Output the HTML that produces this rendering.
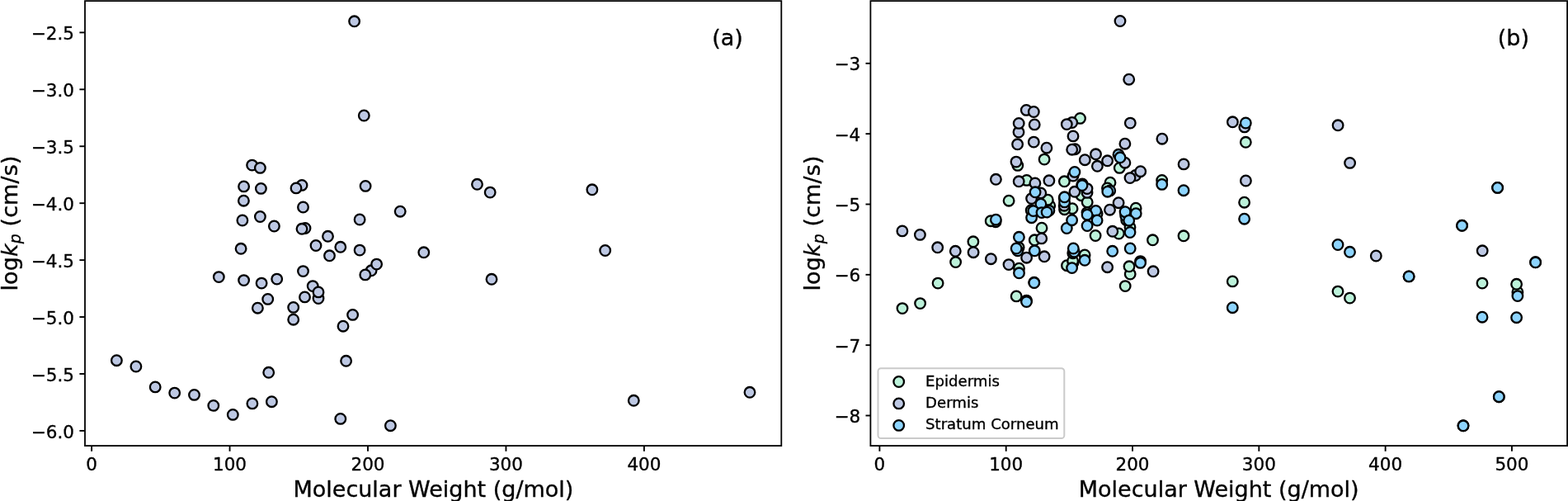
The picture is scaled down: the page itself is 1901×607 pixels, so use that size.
<!DOCTYPE html>
<html lang="en"><head><meta charset="utf-8"><title>Skin permeability vs molecular weight</title>
<style>html,body{margin:0;padding:0;background:#fff}svg{display:block}text{font-family:"DejaVu Sans","Liberation Sans",sans-serif;fill:#000;stroke:#000;stroke-width:0.35px;stroke-linejoin:round}</style>
</head><body>
<svg width="1901" height="607" viewBox="0 0 1901 607">
<rect width="1901" height="607" fill="#fff"/>
<rect x="103.0" y="1.15" width="844.30" height="538.95" fill="#fff" stroke="#000" stroke-width="1.8" stroke-linejoin="miter"/>
<line x1="111.10" y1="540.1" x2="111.10" y2="546.8000000000001" stroke="#000" stroke-width="1.9"/>
<text x="111.10" y="569.6" font-size="21.5" text-anchor="middle">0</text>
<line x1="278.55" y1="540.1" x2="278.55" y2="546.8000000000001" stroke="#000" stroke-width="1.9"/>
<text x="278.55" y="569.6" font-size="21.5" text-anchor="middle">100</text>
<line x1="446.00" y1="540.1" x2="446.00" y2="546.8000000000001" stroke="#000" stroke-width="1.9"/>
<text x="446.00" y="569.6" font-size="21.5" text-anchor="middle">200</text>
<line x1="613.45" y1="540.1" x2="613.45" y2="546.8000000000001" stroke="#000" stroke-width="1.9"/>
<text x="613.45" y="569.6" font-size="21.5" text-anchor="middle">300</text>
<line x1="780.90" y1="540.1" x2="780.90" y2="546.8000000000001" stroke="#000" stroke-width="1.9"/>
<text x="780.90" y="569.6" font-size="21.5" text-anchor="middle">400</text>
<line x1="96.4" y1="39.40" x2="103.0" y2="39.40" stroke="#000" stroke-width="1.9"/>
<text x="90.05" y="48.40" font-size="21.5" text-anchor="end">−2.5</text>
<line x1="96.4" y1="108.33" x2="103.0" y2="108.33" stroke="#000" stroke-width="1.9"/>
<text x="90.05" y="117.33" font-size="21.5" text-anchor="end">−3.0</text>
<line x1="96.4" y1="177.26" x2="103.0" y2="177.26" stroke="#000" stroke-width="1.9"/>
<text x="90.05" y="186.26" font-size="21.5" text-anchor="end">−3.5</text>
<line x1="96.4" y1="246.19" x2="103.0" y2="246.19" stroke="#000" stroke-width="1.9"/>
<text x="90.05" y="255.19" font-size="21.5" text-anchor="end">−4.0</text>
<line x1="96.4" y1="315.12" x2="103.0" y2="315.12" stroke="#000" stroke-width="1.9"/>
<text x="90.05" y="324.12" font-size="21.5" text-anchor="end">−4.5</text>
<line x1="96.4" y1="384.05" x2="103.0" y2="384.05" stroke="#000" stroke-width="1.9"/>
<text x="90.05" y="393.05" font-size="21.5" text-anchor="end">−5.0</text>
<line x1="96.4" y1="452.98" x2="103.0" y2="452.98" stroke="#000" stroke-width="1.9"/>
<text x="90.05" y="461.98" font-size="21.5" text-anchor="end">−5.5</text>
<line x1="96.4" y1="521.91" x2="103.0" y2="521.91" stroke="#000" stroke-width="1.9"/>
<text x="90.05" y="530.91" font-size="21.5" text-anchor="end">−6.0</text>
<text x="525.4" y="601.5" font-size="27.0" text-anchor="middle">Molecular Weight (g/mol)</text>
<text transform="translate(20.7,270.5) rotate(-90)" font-size="27.0" text-anchor="middle" letter-spacing="0.1">log<tspan font-style="italic">k</tspan><tspan font-style="italic" font-size="18.90" dy="4.32">p</tspan><tspan dy="-4.32"> (cm/s)</tspan></text>
<g>
<circle cx="429.6" cy="25.8" r="6.3" fill="#bdc8e3" stroke="#000" stroke-width="2.3"/>
<circle cx="441.3" cy="140.0" r="6.3" fill="#bdc8e3" stroke="#000" stroke-width="2.3"/>
<circle cx="305.6" cy="200.1" r="6.3" fill="#bdc8e3" stroke="#000" stroke-width="2.3"/>
<circle cx="315.4" cy="203.4" r="6.3" fill="#bdc8e3" stroke="#000" stroke-width="2.3"/>
<circle cx="295.4" cy="243.2" r="6.3" fill="#bdc8e3" stroke="#000" stroke-width="2.3"/>
<circle cx="295.6" cy="225.9" r="6.3" fill="#bdc8e3" stroke="#000" stroke-width="2.3"/>
<circle cx="316.4" cy="228.4" r="6.3" fill="#bdc8e3" stroke="#000" stroke-width="2.3"/>
<circle cx="366.0" cy="224.4" r="6.3" fill="#bdc8e3" stroke="#000" stroke-width="2.3"/>
<circle cx="359.0" cy="227.9" r="6.3" fill="#bdc8e3" stroke="#000" stroke-width="2.3"/>
<circle cx="443.1" cy="225.4" r="6.3" fill="#bdc8e3" stroke="#000" stroke-width="2.3"/>
<circle cx="578.5" cy="223.3" r="6.3" fill="#bdc8e3" stroke="#000" stroke-width="2.3"/>
<circle cx="367.5" cy="251.0" r="6.3" fill="#bdc8e3" stroke="#000" stroke-width="2.3"/>
<circle cx="485.2" cy="256.2" r="6.3" fill="#bdc8e3" stroke="#000" stroke-width="2.3"/>
<circle cx="293.9" cy="267.0" r="6.3" fill="#bdc8e3" stroke="#000" stroke-width="2.3"/>
<circle cx="315.4" cy="262.5" r="6.3" fill="#bdc8e3" stroke="#000" stroke-width="2.3"/>
<circle cx="332.4" cy="274.0" r="6.3" fill="#bdc8e3" stroke="#000" stroke-width="2.3"/>
<circle cx="436.1" cy="266.0" r="6.3" fill="#bdc8e3" stroke="#000" stroke-width="2.3"/>
<circle cx="370.0" cy="276.5" r="6.3" fill="#bdc8e3" stroke="#000" stroke-width="2.3"/>
<circle cx="366.0" cy="277.3" r="6.3" fill="#bdc8e3" stroke="#000" stroke-width="2.3"/>
<circle cx="397.5" cy="286.3" r="6.3" fill="#bdc8e3" stroke="#000" stroke-width="2.3"/>
<circle cx="383.0" cy="297.5" r="6.3" fill="#bdc8e3" stroke="#000" stroke-width="2.3"/>
<circle cx="412.8" cy="299.3" r="6.3" fill="#bdc8e3" stroke="#000" stroke-width="2.3"/>
<circle cx="292.1" cy="301.3" r="6.3" fill="#bdc8e3" stroke="#000" stroke-width="2.3"/>
<circle cx="436.1" cy="303.1" r="6.3" fill="#bdc8e3" stroke="#000" stroke-width="2.3"/>
<circle cx="513.8" cy="305.8" r="6.3" fill="#bdc8e3" stroke="#000" stroke-width="2.3"/>
<circle cx="399.5" cy="309.8" r="6.3" fill="#bdc8e3" stroke="#000" stroke-width="2.3"/>
<circle cx="450.1" cy="327.8" r="6.3" fill="#bdc8e3" stroke="#000" stroke-width="2.3"/>
<circle cx="456.6" cy="320.1" r="6.3" fill="#bdc8e3" stroke="#000" stroke-width="2.3"/>
<circle cx="442.8" cy="332.9" r="6.3" fill="#bdc8e3" stroke="#000" stroke-width="2.3"/>
<circle cx="367.5" cy="328.6" r="6.3" fill="#bdc8e3" stroke="#000" stroke-width="2.3"/>
<circle cx="265.3" cy="335.6" r="6.3" fill="#bdc8e3" stroke="#000" stroke-width="2.3"/>
<circle cx="295.6" cy="339.6" r="6.3" fill="#bdc8e3" stroke="#000" stroke-width="2.3"/>
<circle cx="317.1" cy="343.1" r="6.3" fill="#bdc8e3" stroke="#000" stroke-width="2.3"/>
<circle cx="335.7" cy="338.1" r="6.3" fill="#bdc8e3" stroke="#000" stroke-width="2.3"/>
<circle cx="379.2" cy="346.6" r="6.3" fill="#bdc8e3" stroke="#000" stroke-width="2.3"/>
<circle cx="386.0" cy="361.6" r="6.3" fill="#bdc8e3" stroke="#000" stroke-width="2.3"/>
<circle cx="386.0" cy="353.9" r="6.3" fill="#bdc8e3" stroke="#000" stroke-width="2.3"/>
<circle cx="369.5" cy="359.9" r="6.3" fill="#bdc8e3" stroke="#000" stroke-width="2.3"/>
<circle cx="324.7" cy="362.4" r="6.3" fill="#bdc8e3" stroke="#000" stroke-width="2.3"/>
<circle cx="312.4" cy="373.2" r="6.3" fill="#bdc8e3" stroke="#000" stroke-width="2.3"/>
<circle cx="355.7" cy="372.4" r="6.3" fill="#bdc8e3" stroke="#000" stroke-width="2.3"/>
<circle cx="355.7" cy="387.2" r="6.3" fill="#bdc8e3" stroke="#000" stroke-width="2.3"/>
<circle cx="427.6" cy="381.4" r="6.3" fill="#bdc8e3" stroke="#000" stroke-width="2.3"/>
<circle cx="416.0" cy="395.2" r="6.3" fill="#bdc8e3" stroke="#000" stroke-width="2.3"/>
<circle cx="141.4" cy="436.7" r="6.3" fill="#bdc8e3" stroke="#000" stroke-width="2.3"/>
<circle cx="164.9" cy="444.0" r="6.3" fill="#bdc8e3" stroke="#000" stroke-width="2.3"/>
<circle cx="419.6" cy="437.3" r="6.3" fill="#bdc8e3" stroke="#000" stroke-width="2.3"/>
<circle cx="325.7" cy="451.3" r="6.3" fill="#bdc8e3" stroke="#000" stroke-width="2.3"/>
<circle cx="188.2" cy="468.9" r="6.3" fill="#bdc8e3" stroke="#000" stroke-width="2.3"/>
<circle cx="211.7" cy="476.1" r="6.3" fill="#bdc8e3" stroke="#000" stroke-width="2.3"/>
<circle cx="235.5" cy="478.4" r="6.3" fill="#bdc8e3" stroke="#000" stroke-width="2.3"/>
<circle cx="258.8" cy="491.4" r="6.3" fill="#bdc8e3" stroke="#000" stroke-width="2.3"/>
<circle cx="282.3" cy="502.4" r="6.3" fill="#bdc8e3" stroke="#000" stroke-width="2.3"/>
<circle cx="305.9" cy="488.9" r="6.3" fill="#bdc8e3" stroke="#000" stroke-width="2.3"/>
<circle cx="329.4" cy="486.7" r="6.3" fill="#bdc8e3" stroke="#000" stroke-width="2.3"/>
<circle cx="412.8" cy="507.4" r="6.3" fill="#bdc8e3" stroke="#000" stroke-width="2.3"/>
<circle cx="473.4" cy="515.7" r="6.3" fill="#bdc8e3" stroke="#000" stroke-width="2.3"/>
<circle cx="594.2" cy="233.1" r="6.3" fill="#bdc8e3" stroke="#000" stroke-width="2.3"/>
<circle cx="717.9" cy="229.8" r="6.3" fill="#bdc8e3" stroke="#000" stroke-width="2.3"/>
<circle cx="733.7" cy="303.5" r="6.3" fill="#bdc8e3" stroke="#000" stroke-width="2.3"/>
<circle cx="596.0" cy="338.3" r="6.3" fill="#bdc8e3" stroke="#000" stroke-width="2.3"/>
<circle cx="768.3" cy="485.3" r="6.3" fill="#bdc8e3" stroke="#000" stroke-width="2.3"/>
<circle cx="909.0" cy="475.3" r="6.3" fill="#bdc8e3" stroke="#000" stroke-width="2.3"/>
</g>
<text x="882.0" y="54.8" font-size="27.0" text-anchor="middle">(a)</text>
<rect x="1055.4" y="1.15" width="844.70" height="538.95" fill="#fff" stroke="#000" stroke-width="1.8" stroke-linejoin="miter"/>
<line x1="1066.40" y1="540.1" x2="1066.40" y2="546.8000000000001" stroke="#000" stroke-width="1.9"/>
<text x="1066.40" y="569.6" font-size="21.5" text-anchor="middle">0</text>
<line x1="1219.71" y1="540.1" x2="1219.71" y2="546.8000000000001" stroke="#000" stroke-width="1.9"/>
<text x="1219.71" y="569.6" font-size="21.5" text-anchor="middle">100</text>
<line x1="1373.02" y1="540.1" x2="1373.02" y2="546.8000000000001" stroke="#000" stroke-width="1.9"/>
<text x="1373.02" y="569.6" font-size="21.5" text-anchor="middle">200</text>
<line x1="1526.33" y1="540.1" x2="1526.33" y2="546.8000000000001" stroke="#000" stroke-width="1.9"/>
<text x="1526.33" y="569.6" font-size="21.5" text-anchor="middle">300</text>
<line x1="1679.64" y1="540.1" x2="1679.64" y2="546.8000000000001" stroke="#000" stroke-width="1.9"/>
<text x="1679.64" y="569.6" font-size="21.5" text-anchor="middle">400</text>
<line x1="1832.95" y1="540.1" x2="1832.95" y2="546.8000000000001" stroke="#000" stroke-width="1.9"/>
<text x="1832.95" y="569.6" font-size="21.5" text-anchor="middle">500</text>
<line x1="1049.5" y1="76.80" x2="1055.4" y2="76.80" stroke="#000" stroke-width="1.9"/>
<text x="1043.20" y="85.35" font-size="21.5" text-anchor="end">−3</text>
<line x1="1049.5" y1="162.14" x2="1055.4" y2="162.14" stroke="#000" stroke-width="1.9"/>
<text x="1043.20" y="170.69" font-size="21.5" text-anchor="end">−4</text>
<line x1="1049.5" y1="247.48" x2="1055.4" y2="247.48" stroke="#000" stroke-width="1.9"/>
<text x="1043.20" y="256.03" font-size="21.5" text-anchor="end">−5</text>
<line x1="1049.5" y1="332.82" x2="1055.4" y2="332.82" stroke="#000" stroke-width="1.9"/>
<text x="1043.20" y="341.37" font-size="21.5" text-anchor="end">−6</text>
<line x1="1049.5" y1="418.16" x2="1055.4" y2="418.16" stroke="#000" stroke-width="1.9"/>
<text x="1043.20" y="426.71" font-size="21.5" text-anchor="end">−7</text>
<line x1="1049.5" y1="503.50" x2="1055.4" y2="503.50" stroke="#000" stroke-width="1.9"/>
<text x="1043.20" y="512.05" font-size="21.5" text-anchor="end">−8</text>
<text x="1477.7" y="601.5" font-size="27.0" text-anchor="middle">Molecular Weight (g/mol)</text>
<text transform="translate(994.3,270.5) rotate(-90)" font-size="27.0" text-anchor="middle" letter-spacing="0.1">log<tspan font-style="italic">k</tspan><tspan font-style="italic" font-size="18.90" dy="4.32">p</tspan><tspan dy="-4.32"> (cm/s)</tspan></text>
<g>
<circle cx="1312.2" cy="223.0" r="6.3" fill="#bcf2da" stroke="#000" stroke-width="2.3"/>
<circle cx="1244.5" cy="364.1" r="6.3" fill="#bcf2da" stroke="#000" stroke-width="2.3"/>
<circle cx="1253.8" cy="342.2" r="6.3" fill="#bcf2da" stroke="#000" stroke-width="2.3"/>
<circle cx="1708.1" cy="334.9" r="6.3" fill="#bcf2da" stroke="#000" stroke-width="2.3"/>
<circle cx="1772.5" cy="273.3" r="6.3" fill="#bcf2da" stroke="#000" stroke-width="2.3"/>
<circle cx="1861.6" cy="317.8" r="6.3" fill="#bcf2da" stroke="#000" stroke-width="2.3"/>
<circle cx="1815.6" cy="227.4" r="6.3" fill="#bcf2da" stroke="#000" stroke-width="2.3"/>
<circle cx="1817.3" cy="480.7" r="6.3" fill="#bcf2da" stroke="#000" stroke-width="2.3"/>
<circle cx="1774.0" cy="515.8" r="6.3" fill="#bcf2da" stroke="#000" stroke-width="2.3"/>
<circle cx="1207.1" cy="268.7" r="6.3" fill="#bcf2da" stroke="#000" stroke-width="2.3"/>
<circle cx="1272.7" cy="249.2" r="6.3" fill="#bcf2da" stroke="#000" stroke-width="2.3"/>
<circle cx="1309.5" cy="143.4" r="6.3" fill="#bcf2da" stroke="#000" stroke-width="2.3"/>
<circle cx="1233.8" cy="200.4" r="6.3" fill="#bcf2da" stroke="#000" stroke-width="2.3"/>
<circle cx="1266.1" cy="193.1" r="6.3" fill="#bcf2da" stroke="#000" stroke-width="2.3"/>
<circle cx="1244.7" cy="218.4" r="6.3" fill="#bcf2da" stroke="#000" stroke-width="2.3"/>
<circle cx="1290.4" cy="219.8" r="6.3" fill="#bcf2da" stroke="#000" stroke-width="2.3"/>
<circle cx="1357.3" cy="203.4" r="6.3" fill="#bcf2da" stroke="#000" stroke-width="2.3"/>
<circle cx="1346.0" cy="221.2" r="6.3" fill="#bcf2da" stroke="#000" stroke-width="2.3"/>
<circle cx="1342.5" cy="228.0" r="6.3" fill="#bcf2da" stroke="#000" stroke-width="2.3"/>
<circle cx="1408.7" cy="218.4" r="6.3" fill="#bcf2da" stroke="#000" stroke-width="2.3"/>
<circle cx="1223.1" cy="243.2" r="6.3" fill="#bcf2da" stroke="#000" stroke-width="2.3"/>
<circle cx="1270.3" cy="242.2" r="6.3" fill="#bcf2da" stroke="#000" stroke-width="2.3"/>
<circle cx="1311.0" cy="236.7" r="6.3" fill="#bcf2da" stroke="#000" stroke-width="2.3"/>
<circle cx="1318.2" cy="244.9" r="6.3" fill="#bcf2da" stroke="#000" stroke-width="2.3"/>
<circle cx="1300.0" cy="252.7" r="6.3" fill="#bcf2da" stroke="#000" stroke-width="2.3"/>
<circle cx="1377.1" cy="252.2" r="6.3" fill="#bcf2da" stroke="#000" stroke-width="2.3"/>
<circle cx="1510.3" cy="172.3" r="6.3" fill="#bcf2da" stroke="#000" stroke-width="2.3"/>
<circle cx="1508.6" cy="245.2" r="6.3" fill="#bcf2da" stroke="#000" stroke-width="2.3"/>
<circle cx="1435.0" cy="285.8" r="6.3" fill="#bcf2da" stroke="#000" stroke-width="2.3"/>
<circle cx="1494.3" cy="340.9" r="6.3" fill="#bcf2da" stroke="#000" stroke-width="2.3"/>
<circle cx="1622.0" cy="353.1" r="6.3" fill="#bcf2da" stroke="#000" stroke-width="2.3"/>
<circle cx="1636.5" cy="361.1" r="6.3" fill="#bcf2da" stroke="#000" stroke-width="2.3"/>
<circle cx="1797.0" cy="343.1" r="6.3" fill="#bcf2da" stroke="#000" stroke-width="2.3"/>
<circle cx="1839.9" cy="353.9" r="6.3" fill="#bcf2da" stroke="#000" stroke-width="2.3"/>
<circle cx="1838.6" cy="344.3" r="6.3" fill="#bcf2da" stroke="#000" stroke-width="2.3"/>
<circle cx="1094.0" cy="373.6" r="6.3" fill="#bcf2da" stroke="#000" stroke-width="2.3"/>
<circle cx="1115.6" cy="367.6" r="6.3" fill="#bcf2da" stroke="#000" stroke-width="2.3"/>
<circle cx="1137.1" cy="343.1" r="6.3" fill="#bcf2da" stroke="#000" stroke-width="2.3"/>
<circle cx="1158.6" cy="317.6" r="6.3" fill="#bcf2da" stroke="#000" stroke-width="2.3"/>
<circle cx="1179.9" cy="292.8" r="6.3" fill="#bcf2da" stroke="#000" stroke-width="2.3"/>
<circle cx="1201.2" cy="267.7" r="6.3" fill="#bcf2da" stroke="#000" stroke-width="2.3"/>
<circle cx="1232.2" cy="358.9" r="6.3" fill="#bcf2da" stroke="#000" stroke-width="2.3"/>
<circle cx="1235.5" cy="325.2" r="6.3" fill="#bcf2da" stroke="#000" stroke-width="2.3"/>
<circle cx="1254.3" cy="290.8" r="6.3" fill="#bcf2da" stroke="#000" stroke-width="2.3"/>
<circle cx="1263.0" cy="276.2" r="6.3" fill="#bcf2da" stroke="#000" stroke-width="2.3"/>
<circle cx="1328.1" cy="285.5" r="6.3" fill="#bcf2da" stroke="#000" stroke-width="2.3"/>
<circle cx="1356.4" cy="283.0" r="6.3" fill="#bcf2da" stroke="#000" stroke-width="2.3"/>
<circle cx="1397.5" cy="290.8" r="6.3" fill="#bcf2da" stroke="#000" stroke-width="2.3"/>
<circle cx="1315.1" cy="309.0" r="6.3" fill="#bcf2da" stroke="#000" stroke-width="2.3"/>
<circle cx="1293.5" cy="321.7" r="6.3" fill="#bcf2da" stroke="#000" stroke-width="2.3"/>
<circle cx="1301.1" cy="318.2" r="6.3" fill="#bcf2da" stroke="#000" stroke-width="2.3"/>
<circle cx="1300.6" cy="316.2" r="6.3" fill="#bcf2da" stroke="#000" stroke-width="2.3"/>
<circle cx="1370.2" cy="332.1" r="6.3" fill="#bcf2da" stroke="#000" stroke-width="2.3"/>
<circle cx="1369.0" cy="322.8" r="6.3" fill="#bcf2da" stroke="#000" stroke-width="2.3"/>
<circle cx="1382.6" cy="316.6" r="6.3" fill="#bcf2da" stroke="#000" stroke-width="2.3"/>
<circle cx="1364.2" cy="346.6" r="6.3" fill="#bcf2da" stroke="#000" stroke-width="2.3"/>
<circle cx="1250.2" cy="254.8" r="6.3" fill="#bcf2da" stroke="#000" stroke-width="2.3"/>
<circle cx="1290.6" cy="253.7" r="6.3" fill="#bcf2da" stroke="#000" stroke-width="2.3"/>
<circle cx="1318.0" cy="257.6" r="6.3" fill="#bcf2da" stroke="#000" stroke-width="2.3"/>
<circle cx="1330.1" cy="258.8" r="6.3" fill="#bcf2da" stroke="#000" stroke-width="2.3"/>
<circle cx="1365.7" cy="266.7" r="6.3" fill="#bcf2da" stroke="#000" stroke-width="2.3"/>
<circle cx="1370.0" cy="275.2" r="6.3" fill="#bcf2da" stroke="#000" stroke-width="2.3"/>
<circle cx="1235.1" cy="299.8" r="6.3" fill="#bcf2da" stroke="#000" stroke-width="2.3"/>
<circle cx="1358.0" cy="25.5" r="6.3" fill="#bdc8e3" stroke="#000" stroke-width="2.3"/>
<circle cx="1368.7" cy="96.2" r="6.3" fill="#bdc8e3" stroke="#000" stroke-width="2.3"/>
<circle cx="1244.3" cy="133.4" r="6.3" fill="#bdc8e3" stroke="#000" stroke-width="2.3"/>
<circle cx="1253.3" cy="135.5" r="6.3" fill="#bdc8e3" stroke="#000" stroke-width="2.3"/>
<circle cx="1235.0" cy="160.1" r="6.3" fill="#bdc8e3" stroke="#000" stroke-width="2.3"/>
<circle cx="1235.2" cy="149.4" r="6.3" fill="#bdc8e3" stroke="#000" stroke-width="2.3"/>
<circle cx="1254.2" cy="150.9" r="6.3" fill="#bdc8e3" stroke="#000" stroke-width="2.3"/>
<circle cx="1299.7" cy="148.5" r="6.3" fill="#bdc8e3" stroke="#000" stroke-width="2.3"/>
<circle cx="1293.3" cy="150.6" r="6.3" fill="#bdc8e3" stroke="#000" stroke-width="2.3"/>
<circle cx="1370.3" cy="149.1" r="6.3" fill="#bdc8e3" stroke="#000" stroke-width="2.3"/>
<circle cx="1494.4" cy="147.8" r="6.3" fill="#bdc8e3" stroke="#000" stroke-width="2.3"/>
<circle cx="1301.0" cy="164.9" r="6.3" fill="#bdc8e3" stroke="#000" stroke-width="2.3"/>
<circle cx="1408.9" cy="168.2" r="6.3" fill="#bdc8e3" stroke="#000" stroke-width="2.3"/>
<circle cx="1233.6" cy="174.8" r="6.3" fill="#bdc8e3" stroke="#000" stroke-width="2.3"/>
<circle cx="1253.3" cy="172.1" r="6.3" fill="#bdc8e3" stroke="#000" stroke-width="2.3"/>
<circle cx="1268.9" cy="179.2" r="6.3" fill="#bdc8e3" stroke="#000" stroke-width="2.3"/>
<circle cx="1363.9" cy="174.2" r="6.3" fill="#bdc8e3" stroke="#000" stroke-width="2.3"/>
<circle cx="1303.3" cy="180.7" r="6.3" fill="#bdc8e3" stroke="#000" stroke-width="2.3"/>
<circle cx="1299.7" cy="181.2" r="6.3" fill="#bdc8e3" stroke="#000" stroke-width="2.3"/>
<circle cx="1328.5" cy="186.8" r="6.3" fill="#bdc8e3" stroke="#000" stroke-width="2.3"/>
<circle cx="1315.3" cy="193.7" r="6.3" fill="#bdc8e3" stroke="#000" stroke-width="2.3"/>
<circle cx="1342.6" cy="194.8" r="6.3" fill="#bdc8e3" stroke="#000" stroke-width="2.3"/>
<circle cx="1232.0" cy="196.1" r="6.3" fill="#bdc8e3" stroke="#000" stroke-width="2.3"/>
<circle cx="1363.9" cy="197.2" r="6.3" fill="#bdc8e3" stroke="#000" stroke-width="2.3"/>
<circle cx="1435.1" cy="198.9" r="6.3" fill="#bdc8e3" stroke="#000" stroke-width="2.3"/>
<circle cx="1330.4" cy="201.3" r="6.3" fill="#bdc8e3" stroke="#000" stroke-width="2.3"/>
<circle cx="1376.7" cy="212.5" r="6.3" fill="#bdc8e3" stroke="#000" stroke-width="2.3"/>
<circle cx="1382.7" cy="207.7" r="6.3" fill="#bdc8e3" stroke="#000" stroke-width="2.3"/>
<circle cx="1370.0" cy="215.6" r="6.3" fill="#bdc8e3" stroke="#000" stroke-width="2.3"/>
<circle cx="1301.0" cy="213.0" r="6.3" fill="#bdc8e3" stroke="#000" stroke-width="2.3"/>
<circle cx="1207.4" cy="217.3" r="6.3" fill="#bdc8e3" stroke="#000" stroke-width="2.3"/>
<circle cx="1235.2" cy="219.8" r="6.3" fill="#bdc8e3" stroke="#000" stroke-width="2.3"/>
<circle cx="1254.9" cy="221.9" r="6.3" fill="#bdc8e3" stroke="#000" stroke-width="2.3"/>
<circle cx="1271.9" cy="218.8" r="6.3" fill="#bdc8e3" stroke="#000" stroke-width="2.3"/>
<circle cx="1311.8" cy="224.1" r="6.3" fill="#bdc8e3" stroke="#000" stroke-width="2.3"/>
<circle cx="1318.0" cy="233.4" r="6.3" fill="#bdc8e3" stroke="#000" stroke-width="2.3"/>
<circle cx="1318.0" cy="228.6" r="6.3" fill="#bdc8e3" stroke="#000" stroke-width="2.3"/>
<circle cx="1302.9" cy="232.3" r="6.3" fill="#bdc8e3" stroke="#000" stroke-width="2.3"/>
<circle cx="1261.8" cy="233.9" r="6.3" fill="#bdc8e3" stroke="#000" stroke-width="2.3"/>
<circle cx="1250.6" cy="240.6" r="6.3" fill="#bdc8e3" stroke="#000" stroke-width="2.3"/>
<circle cx="1290.2" cy="240.1" r="6.3" fill="#bdc8e3" stroke="#000" stroke-width="2.3"/>
<circle cx="1290.2" cy="249.2" r="6.3" fill="#bdc8e3" stroke="#000" stroke-width="2.3"/>
<circle cx="1356.1" cy="245.7" r="6.3" fill="#bdc8e3" stroke="#000" stroke-width="2.3"/>
<circle cx="1345.5" cy="254.2" r="6.3" fill="#bdc8e3" stroke="#000" stroke-width="2.3"/>
<circle cx="1093.9" cy="279.9" r="6.3" fill="#bdc8e3" stroke="#000" stroke-width="2.3"/>
<circle cx="1115.4" cy="284.4" r="6.3" fill="#bdc8e3" stroke="#000" stroke-width="2.3"/>
<circle cx="1348.8" cy="280.3" r="6.3" fill="#bdc8e3" stroke="#000" stroke-width="2.3"/>
<circle cx="1262.7" cy="288.9" r="6.3" fill="#bdc8e3" stroke="#000" stroke-width="2.3"/>
<circle cx="1136.7" cy="299.8" r="6.3" fill="#bdc8e3" stroke="#000" stroke-width="2.3"/>
<circle cx="1158.3" cy="304.3" r="6.3" fill="#bdc8e3" stroke="#000" stroke-width="2.3"/>
<circle cx="1180.1" cy="305.7" r="6.3" fill="#bdc8e3" stroke="#000" stroke-width="2.3"/>
<circle cx="1201.4" cy="313.7" r="6.3" fill="#bdc8e3" stroke="#000" stroke-width="2.3"/>
<circle cx="1223.0" cy="320.6" r="6.3" fill="#bdc8e3" stroke="#000" stroke-width="2.3"/>
<circle cx="1244.6" cy="312.2" r="6.3" fill="#bdc8e3" stroke="#000" stroke-width="2.3"/>
<circle cx="1266.1" cy="310.8" r="6.3" fill="#bdc8e3" stroke="#000" stroke-width="2.3"/>
<circle cx="1342.6" cy="323.7" r="6.3" fill="#bdc8e3" stroke="#000" stroke-width="2.3"/>
<circle cx="1398.1" cy="328.8" r="6.3" fill="#bdc8e3" stroke="#000" stroke-width="2.3"/>
<circle cx="1508.8" cy="153.9" r="6.3" fill="#bdc8e3" stroke="#000" stroke-width="2.3"/>
<circle cx="1622.1" cy="151.8" r="6.3" fill="#bdc8e3" stroke="#000" stroke-width="2.3"/>
<circle cx="1636.6" cy="197.4" r="6.3" fill="#bdc8e3" stroke="#000" stroke-width="2.3"/>
<circle cx="1510.4" cy="219.0" r="6.3" fill="#bdc8e3" stroke="#000" stroke-width="2.3"/>
<circle cx="1668.3" cy="310.0" r="6.3" fill="#bdc8e3" stroke="#000" stroke-width="2.3"/>
<circle cx="1797.2" cy="303.8" r="6.3" fill="#bdc8e3" stroke="#000" stroke-width="2.3"/>
<circle cx="1356.0" cy="187.3" r="6.3" fill="#8dd4fe" stroke="#000" stroke-width="2.3"/>
<circle cx="1358.0" cy="190.8" r="6.3" fill="#8dd4fe" stroke="#000" stroke-width="2.3"/>
<circle cx="1302.9" cy="208.4" r="6.3" fill="#8dd4fe" stroke="#000" stroke-width="2.3"/>
<circle cx="1312.0" cy="224.6" r="6.3" fill="#8dd4fe" stroke="#000" stroke-width="2.3"/>
<circle cx="1255.1" cy="232.8" r="6.3" fill="#8dd4fe" stroke="#000" stroke-width="2.3"/>
<circle cx="1345.7" cy="230.9" r="6.3" fill="#8dd4fe" stroke="#000" stroke-width="2.3"/>
<circle cx="1342.8" cy="232.2" r="6.3" fill="#8dd4fe" stroke="#000" stroke-width="2.3"/>
<circle cx="1408.7" cy="223.4" r="6.3" fill="#8dd4fe" stroke="#000" stroke-width="2.3"/>
<circle cx="1290.6" cy="244.9" r="6.3" fill="#8dd4fe" stroke="#000" stroke-width="2.3"/>
<circle cx="1290.6" cy="238.8" r="6.3" fill="#8dd4fe" stroke="#000" stroke-width="2.3"/>
<circle cx="1261.9" cy="247.2" r="6.3" fill="#8dd4fe" stroke="#000" stroke-width="2.3"/>
<circle cx="1250.6" cy="263.7" r="6.3" fill="#8dd4fe" stroke="#000" stroke-width="2.3"/>
<circle cx="1252.8" cy="255.6" r="6.3" fill="#8dd4fe" stroke="#000" stroke-width="2.3"/>
<circle cx="1263.0" cy="257.6" r="6.3" fill="#8dd4fe" stroke="#000" stroke-width="2.3"/>
<circle cx="1271.9" cy="255.1" r="6.3" fill="#8dd4fe" stroke="#000" stroke-width="2.3"/>
<circle cx="1269.1" cy="257.1" r="6.3" fill="#8dd4fe" stroke="#000" stroke-width="2.3"/>
<circle cx="1328.6" cy="255.4" r="6.3" fill="#8dd4fe" stroke="#000" stroke-width="2.3"/>
<circle cx="1364.7" cy="261.5" r="6.3" fill="#8dd4fe" stroke="#000" stroke-width="2.3"/>
<circle cx="1364.1" cy="256.7" r="6.3" fill="#8dd4fe" stroke="#000" stroke-width="2.3"/>
<circle cx="1377.2" cy="258.7" r="6.3" fill="#8dd4fe" stroke="#000" stroke-width="2.3"/>
<circle cx="1510.3" cy="149.0" r="6.3" fill="#8dd4fe" stroke="#000" stroke-width="2.3"/>
<circle cx="1435.0" cy="230.7" r="6.3" fill="#8dd4fe" stroke="#000" stroke-width="2.3"/>
<circle cx="1815.6" cy="227.4" r="6.3" fill="#8dd4fe" stroke="#000" stroke-width="2.3"/>
<circle cx="1508.6" cy="265.2" r="6.3" fill="#8dd4fe" stroke="#000" stroke-width="2.3"/>
<circle cx="1494.3" cy="372.7" r="6.3" fill="#8dd4fe" stroke="#000" stroke-width="2.3"/>
<circle cx="1622.0" cy="296.5" r="6.3" fill="#8dd4fe" stroke="#000" stroke-width="2.3"/>
<circle cx="1636.5" cy="305.3" r="6.3" fill="#8dd4fe" stroke="#000" stroke-width="2.3"/>
<circle cx="1708.1" cy="334.9" r="6.3" fill="#8dd4fe" stroke="#000" stroke-width="2.3"/>
<circle cx="1772.5" cy="273.3" r="6.3" fill="#8dd4fe" stroke="#000" stroke-width="2.3"/>
<circle cx="1861.6" cy="317.8" r="6.3" fill="#8dd4fe" stroke="#000" stroke-width="2.3"/>
<circle cx="1839.9" cy="358.6" r="6.3" fill="#8dd4fe" stroke="#000" stroke-width="2.3"/>
<circle cx="1797.0" cy="384.2" r="6.3" fill="#8dd4fe" stroke="#000" stroke-width="2.3"/>
<circle cx="1838.6" cy="384.7" r="6.3" fill="#8dd4fe" stroke="#000" stroke-width="2.3"/>
<circle cx="1817.3" cy="480.7" r="6.3" fill="#8dd4fe" stroke="#000" stroke-width="2.3"/>
<circle cx="1774.0" cy="515.8" r="6.3" fill="#8dd4fe" stroke="#000" stroke-width="2.3"/>
<circle cx="1207.4" cy="266.2" r="6.3" fill="#8dd4fe" stroke="#000" stroke-width="2.3"/>
<circle cx="1235.4" cy="287.3" r="6.3" fill="#8dd4fe" stroke="#000" stroke-width="2.3"/>
<circle cx="1233.8" cy="303.8" r="6.3" fill="#8dd4fe" stroke="#000" stroke-width="2.3"/>
<circle cx="1232.2" cy="301.0" r="6.3" fill="#8dd4fe" stroke="#000" stroke-width="2.3"/>
<circle cx="1254.3" cy="303.8" r="6.3" fill="#8dd4fe" stroke="#000" stroke-width="2.3"/>
<circle cx="1235.5" cy="330.8" r="6.3" fill="#8dd4fe" stroke="#000" stroke-width="2.3"/>
<circle cx="1253.8" cy="342.6" r="6.3" fill="#8dd4fe" stroke="#000" stroke-width="2.3"/>
<circle cx="1244.5" cy="365.6" r="6.3" fill="#8dd4fe" stroke="#000" stroke-width="2.3"/>
<circle cx="1293.3" cy="276.5" r="6.3" fill="#8dd4fe" stroke="#000" stroke-width="2.3"/>
<circle cx="1299.6" cy="266.7" r="6.3" fill="#8dd4fe" stroke="#000" stroke-width="2.3"/>
<circle cx="1318.1" cy="273.5" r="6.3" fill="#8dd4fe" stroke="#000" stroke-width="2.3"/>
<circle cx="1330.1" cy="267.0" r="6.3" fill="#8dd4fe" stroke="#000" stroke-width="2.3"/>
<circle cx="1318.1" cy="260.2" r="6.3" fill="#8dd4fe" stroke="#000" stroke-width="2.3"/>
<circle cx="1300.8" cy="306.7" r="6.3" fill="#8dd4fe" stroke="#000" stroke-width="2.3"/>
<circle cx="1302.3" cy="305.2" r="6.3" fill="#8dd4fe" stroke="#000" stroke-width="2.3"/>
<circle cx="1301.3" cy="301.0" r="6.3" fill="#8dd4fe" stroke="#000" stroke-width="2.3"/>
<circle cx="1299.6" cy="324.6" r="6.3" fill="#8dd4fe" stroke="#000" stroke-width="2.3"/>
<circle cx="1315.1" cy="315.3" r="6.3" fill="#8dd4fe" stroke="#000" stroke-width="2.3"/>
<circle cx="1348.7" cy="304.3" r="6.3" fill="#8dd4fe" stroke="#000" stroke-width="2.3"/>
<circle cx="1370.2" cy="301.0" r="6.3" fill="#8dd4fe" stroke="#000" stroke-width="2.3"/>
<circle cx="1370.0" cy="281.5" r="6.3" fill="#8dd4fe" stroke="#000" stroke-width="2.3"/>
<circle cx="1368.7" cy="267.2" r="6.3" fill="#8dd4fe" stroke="#000" stroke-width="2.3"/>
<circle cx="1382.6" cy="318.4" r="6.3" fill="#8dd4fe" stroke="#000" stroke-width="2.3"/>
</g>
<text x="1834.9" y="54.7" font-size="27.0" text-anchor="middle">(b)</text>
<rect x="1064.5" y="446.2" width="225.8" height="84.85" rx="3.6" ry="3.6" fill="#fff" fill-opacity="0.8" stroke="#cacaca" stroke-width="2"/>
<circle cx="1089.7" cy="462.5" r="6.3" fill="#bcf2da" stroke="#000" stroke-width="2.3"/>
<text x="1122.1" y="467.50" font-size="18.1">Epidermis</text>
<circle cx="1089.7" cy="488.9" r="6.3" fill="#bdc8e3" stroke="#000" stroke-width="2.3"/>
<text x="1122.1" y="493.95" font-size="18.1">Dermis</text>
<circle cx="1089.7" cy="515.4" r="6.3" fill="#8dd4fe" stroke="#000" stroke-width="2.3"/>
<text x="1122.1" y="520.40" font-size="18.1">Stratum Corneum</text>
</svg></body></html>
